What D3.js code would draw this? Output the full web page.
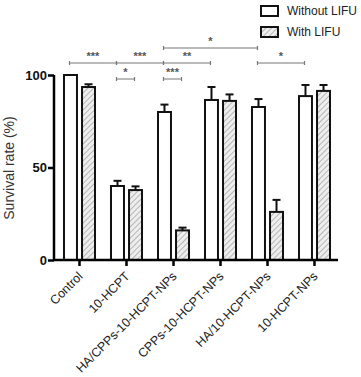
<!DOCTYPE html>
<html>
<head>
<meta charset="utf-8">
<script src="https://cdn.jsdelivr.net/npm/d3@7"></script>
<style>
body { margin: 0; background: #fff; }
text { font-family: "Liberation Sans", Arial, sans-serif; }
</style>
</head>
<body>
<script>
// data
var groups = ["Control", "10-HCPT", "HA/CPPs-10-HCPT-NPs", "CPPs-10-HCPT-NPs", "HA/10-HCPT-NPs", "10-HCPT-NPs"];
var series = ["Without LIFU", "With LIFU"];
var withoutVals = [100, 40, 80, 86.5, 82.7, 88.6];
var withoutErr  = [0, 2.8, 4, 7, 4.3, 6];
var withVals    = [93.5, 37.8, 16, 86, 26, 91.4];
var withErr     = [1.5, 2, 1.5, 3.5, 6.5, 3.2];
var yTicks = [0, 50, 100];

// significance brackets: [group a, series a, group b, series b, label, level]
var sig = [
  [0, 0, 1, 0, "***", 1],
  [1, 0, 2, 0, "***", 1],
  [1, 0, 1, 1, "*", 0],
  [2, 0, 2, 1, "***", 0],
  [2, 0, 3, 0, "**", 1],
  [2, 0, 4, 0, "*", 2],
  [4, 0, 5, 0, "*", 1]
];

var W = 361, H = 377;
var svg = d3.select("body").append("svg").attr("width", W).attr("height", H);

var defs = svg.append("defs");
var pat = defs.append("pattern")
  .attr("id", "hatch").attr("patternUnits", "userSpaceOnUse")
  .attr("width", 4).attr("height", 4)
  .attr("patternTransform", "rotate(45)");
pat.append("rect").attr("width", 4).attr("height", 4).attr("fill", "#eeeeee");
pat.append("line").attr("x1", 0).attr("y1", 0).attr("x2", 0).attr("y2", 4)
  .attr("stroke", "#a8a8a8").attr("stroke-width", 1.6);

var x = d3.scaleBand().domain(groups).range([56, 338]).paddingInner(0.34).paddingOuter(0.17);
var xs = d3.scaleBand().domain(series).range([0, x.bandwidth()]).paddingInner(0.28);
var y = d3.scaleLinear().domain([0, 100]).range([260, 75]);

var rows = [];
groups.forEach(function(g, i) {
  rows.push({g: g, s: series[0], v: withoutVals[i], e: withoutErr[i]});
  rows.push({g: g, s: series[1], v: withVals[i], e: withErr[i]});
});

function cx(gi, si) { return x(groups[gi]) + xs(series[si]) + xs.bandwidth() / 2; }

// error bars (up only)
var eb = svg.append("g").attr("stroke", "#111").attr("stroke-width", 2);
rows.filter(function(d) { return d.e > 0; }).forEach(function(d) {
  var c = x(d.g) + xs(d.s) + xs.bandwidth() / 2;
  eb.append("line").attr("x1", c).attr("x2", c).attr("y1", y(d.v)).attr("y2", y(d.v + d.e));
  eb.append("line").attr("x1", c - 4).attr("x2", c + 4).attr("y1", y(d.v + d.e)).attr("y2", y(d.v + d.e));
});

// bars
svg.append("g").selectAll("rect").data(rows).enter().append("rect")
  .attr("x", function(d) { return x(d.g) + xs(d.s); })
  .attr("y", function(d) { return y(d.v); })
  .attr("width", xs.bandwidth())
  .attr("height", function(d) { return y(0) - y(d.v); })
  .attr("fill", function(d) { return d.s === series[0] ? "#fff" : "url(#hatch)"; })
  .attr("stroke", "#111").attr("stroke-width", 2);

// axes
var yAxis = svg.append("g").attr("transform", "translate(54,0)")
  .call(d3.axisLeft(y).tickValues(yTicks).tickSize(6).tickPadding(1));
yAxis.select(".domain").attr("stroke-width", 2.5).attr("d", "M0," + y(100) + "V" + y(0));
yAxis.selectAll(".tick line").attr("stroke-width", 2.5);
yAxis.selectAll("text").attr("font-size", 13).attr("font-weight", "bold").attr("fill", "#111");

var xAxis = svg.append("g").attr("transform", "translate(0,260)")
  .call(d3.axisBottom(x).tickSize(6).tickSizeOuter(0));
xAxis.select(".domain").attr("stroke-width", 2.5).attr("d", "M53,0H338");
xAxis.selectAll(".tick line").attr("stroke-width", 2.5);
xAxis.selectAll("text")
  .attr("font-size", 12.5).attr("fill", "#222")
  .attr("text-anchor", "end").attr("dy", null).attr("y", 0)
  .attr("transform", "translate(4,17) rotate(-45)");

svg.append("text")
  .attr("transform", "translate(14,168) rotate(-90)")
  .attr("text-anchor", "middle").attr("font-size", 14).attr("fill", "#333")
  .text("Survival rate (%)");

// significance
var levels = [79, 63, 48];
var sg = svg.append("g");
sig.forEach(function(s) {
  var x1 = cx(s[0], s[1]) - 1, x2 = cx(s[2], s[3]) - 1, yy = levels[s[5]];
  sg.append("path")
    .attr("d", "M" + x1 + "," + (yy - 2) + "V" + (yy + 2) + "M" + x1 + "," + yy + "H" + x2 + "M" + x2 + "," + (yy - 2) + "V" + (yy + 2))
    .attr("stroke", "#777").attr("stroke-width", 1.2).attr("fill", "none");
  sg.append("text").attr("x", (x1 + x2) / 2).attr("y", yy - 3)
    .attr("text-anchor", "middle").attr("font-size", 11).attr("font-weight", "bold")
    .attr("fill", "#555").text(s[4]);
});

// legend
var lg = svg.append("g").attr("transform", "translate(260,5)");
series.forEach(function(s, i) {
  lg.append("rect").attr("x", 1).attr("y", i * 21 + 1).attr("width", 17).attr("height", 10)
    .attr("fill", i === 0 ? "#fff" : "url(#hatch)").attr("stroke", "#111").attr("stroke-width", 2);
  lg.append("text").attr("x", 27).attr("y", i * 21 + 10).attr("font-size", 12).attr("fill", "#222").text(s);
});
</script>
</body>
</html>
